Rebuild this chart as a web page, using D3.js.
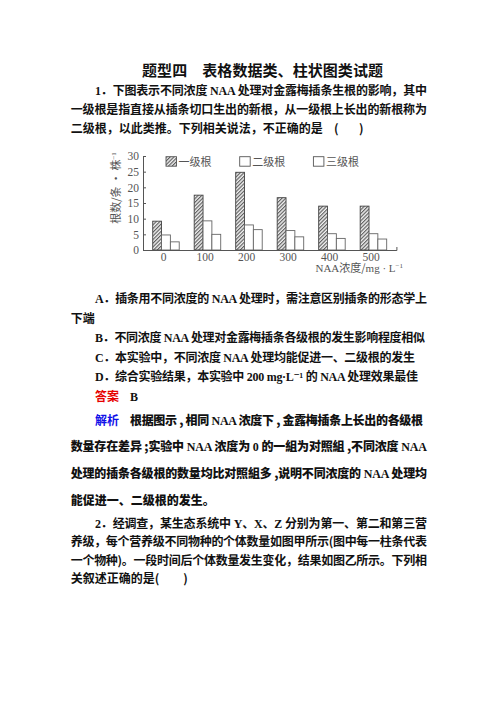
<!DOCTYPE html>
<html>
<head>
<meta charset="utf-8">
<script src="https://cdn.jsdelivr.net/npm/d3@7"></script>
<style>
  html, body { margin: 0; padding: 0; background: #fff; }
  svg { display: block; }
</style>
</head>
<body>
<script>
// chart values
const concentrations = ["0", "100", "200", "300", "400", "500"];
const rootLevels = ["一级根", "二级根", "三级根"];
const primaryRoots = [9.2, 17.5, 24.8, 16.7, 14.0, 14.0];
const secondaryRoots = [4.8, 9.3, 8.0, 6.2, 5.2, 5.2];
const tertiaryRoots = [2.6, 5.0, 6.5, 4.2, 3.7, 3.5];
const yTicks = [0, 5, 10, 15, 20, 25, 30];

// page texts
const pageTitle = "题型四　表格数据类、柱状图类试题";
const question1 = [
    "1．下图表示不同浓度 NAA 处理对金露梅插条生根的影响，其中",
    "一级根是指直接从插条切口生出的新根，从一级根上长出的新根称为",
    "二级根，以此类推。下列相关说法，不正确的是"
];
const options1 = [
    "A．插条用不同浓度的 NAA 处理时，需注意区别插条的形态学上",
    "下端",
    "B．不同浓度 NAA 处理对金露梅插条各级根的发生影响程度相似",
    "C．本实验中，不同浓度 NAA 处理均能促进一、二级根的发生",
    "D．综合实验结果，本实验中 200 mg·L⁻¹ 的 NAA 处理效果最佳"
];
const answer1 = "B";
const analysis1 = [
    "根据图示 , 相同 NAA 浓度下 , 金露梅插条上长出的各级根",
    "数量存在差异 ;实验中 NAA 浓度为 0 的一組为对照組 ,不同浓度 NAA",
    "处理的插条各级根的数量均比对照組多 ,说明不同浓度的 NAA 处理均",
    "能促进一、二级根的发生。"
];
const question2 = [
    "2．经调查，某生态系统中 Y、X、Z 分别为第一、第二和第三营",
    "养级，每个营养级不同物种的个体数量如图甲所示(图中每一柱条代表",
    "一个物种)。一段时间后个体数量发生变化，结果如图乙所示。下列相",
    "关叙述正确的是(　　)"
];

const CJK = "'Noto Sans CJK SC', sans-serif";
const LATIN = "'Liberation Serif', 'DejaVu Serif', serif";

const svg = d3.select("body").append("svg")
    .attr("width", 496)
    .attr("height", 702);

// one line of text, latin runs in serif; stretched to `right` if given
function addLine(str, x, yc, o) {
    o = o || {};
    let fs = o.size || 12;
    let t = svg.append("text")
        .attr("x", x)
        .attr("y", yc + fs * 0.38)
        .attr("fill", o.fill || "#111")
        .style("font-size", fs + "px")
        .style("font-weight", o.weight || 700);
    let runs = str.match(/[A-Za-z0-9·⁻¹\- ]+|[^A-Za-z0-9·⁻¹\- ]+/g);
    runs.forEach(r => {
        t.append("tspan")
            .style("font-family", /[A-Za-z0-9]/.test(r) ? LATIN : CJK)
            .text(r);
    });
    if (o.right !== undefined) {
        let nat = t.node().getComputedTextLength();
        let n = [...str].length;
        t.attr("letter-spacing", (o.right - x - nat) / (n - 1));
    }
    return t;
}

// title
addLine(pageTitle, 142, 70, {size: 15, right: 383});

// question 1
addLine(question1[0], 95, 90, {right: 427});
addLine(question1[1], 70.7, 109, {right: 427});
addLine(question1[2], 70.7, 128);
addLine("(", 334, 128);
addLine(")", 359, 128);

// ---- bar chart ----
const defs = svg.append("defs");
let pat = defs.append("pattern")
    .attr("id", "hatch")
    .attr("patternUnits", "userSpaceOnUse")
    .attr("width", 2.6)
    .attr("height", 2.6)
    .attr("patternTransform", "rotate(45)");
pat.append("rect").attr("width", 2.6).attr("height", 2.6).attr("fill", "#f2f2f2");
pat.append("line")
    .attr("x1", 0.6).attr("y1", 0).attr("x2", 0.6).attr("y2", 2.6)
    .attr("stroke", "#555").attr("stroke-width", 1.1);

let margin = {left: 143, right: 396.4, top: 156, bottom: 250};

let x0 = d3.scaleBand()
    .domain(concentrations)
    .range([margin.left, margin.right])
    .paddingInner(0.361)
    .paddingOuter(0.234);
let x1 = d3.scaleBand()
    .domain(rootLevels)
    .range([0, x0.bandwidth()]);
let y = d3.scaleLinear()
    .domain([0, 30])
    .range([margin.bottom, margin.top]);

const series = [primaryRoots, secondaryRoots, tertiaryRoots];
const axisColor = "#555";
const labelColor = "#555";

let groups = svg.append("g").selectAll("g")
    .data(concentrations)
    .join("g")
    .attr("transform", d => "translate(" + x0(d) + ",0)");

groups.selectAll("rect")
    .data((c, i) => rootLevels.map((lv, j) => ({level: lv, value: series[j][i], j: j})))
    .join("rect")
    .attr("x", d => x1(d.level))
    .attr("y", d => y(d.value))
    .attr("width", x1.bandwidth())
    .attr("height", d => y(0) - y(d.value))
    .attr("fill", d => d.j === 0 ? "url(#hatch)" : "#fff")
    .attr("stroke", d => d.j === 0 ? "#444" : "#666")
    .attr("stroke-width", 0.9);

// y axis, ticks pointing in
let gy = svg.append("g")
    .attr("transform", "translate(" + margin.left + ",0)")
    .call(d3.axisLeft(y).tickValues(yTicks).tickSizeInner(-3).tickSizeOuter(0).tickPadding(4));
gy.select(".domain").attr("stroke", axisColor);
gy.selectAll(".tick line").attr("stroke", axisColor);
gy.selectAll(".tick text")
    .attr("fill", labelColor)
    .style("font-family", LATIN)
    .style("font-size", "11.5px");

// x axis
let gx = svg.append("g")
    .attr("transform", "translate(0," + margin.bottom + ")")
    .call(d3.axisBottom(x0).tickSizeInner(0).tickSizeOuter(-3).tickPadding(3));
gx.select(".domain").attr("stroke", axisColor);
gx.selectAll(".tick text")
    .attr("dx", "-0.2em")
    .attr("fill", labelColor)
    .style("font-family", LATIN)
    .style("font-size", "11.5px");

// axis titles
let yt = svg.append("text")
    .attr("transform", "translate(120,188) rotate(-90)")
    .attr("text-anchor", "middle")
    .attr("fill", labelColor)
    .style("font-family", CJK)
    .style("font-size", "11px");
yt.append("tspan").text("根数/条 · 株");
yt.append("tspan").attr("dy", -4).style("font-size", "7px").style("font-family", LATIN).text("−1");

let xt = svg.append("text")
    .attr("x", 403)
    .attr("y", 272)
    .attr("text-anchor", "end")
    .attr("fill", labelColor)
    .style("font-size", "11px");
xt.append("tspan").style("font-family", LATIN).text("NAA");
xt.append("tspan").style("font-family", CJK).text("浓度/");
xt.append("tspan").style("font-family", LATIN).text("mg · L");
xt.append("tspan").attr("dy", -4).style("font-size", "7px").style("font-family", LATIN).text("−1");

// legend
let legend = svg.append("g").selectAll("g")
    .data(rootLevels)
    .join("g")
    .attr("transform", (d, i) => "translate(" + (166 + i * 73.7) + ",156.7)");
legend.append("rect")
    .attr("width", 10.5)
    .attr("height", 9.5)
    .attr("fill", (d, i) => i === 0 ? "url(#hatch)" : "#fff")
    .attr("stroke", "#555")
    .attr("stroke-width", 0.9);
legend.append("text")
    .attr("x", 12.5)
    .attr("y", 9)
    .attr("fill", labelColor)
    .style("font-family", CJK)
    .style("font-size", "11px")
    .text(d => d);

// options
addLine(options1[0], 95, 298.5, {right: 427});
addLine(options1[1], 70.7, 318);
addLine(options1[2], 95, 337.5, {right: 425});
addLine(options1[3], 95, 357, {right: 415});
addLine(options1[4], 95, 376.5, {right: 418});
addLine("答案", 95, 396, {fill: "#e60000"});
addLine(answer1, 130, 396);

// analysis
addLine("解析", 95, 420, {fill: "#1010e8"});
addLine(analysis1[0], 130, 420, {right: 423, weight: 900});
addLine(analysis1[1], 70.7, 446.7, {right: 427, weight: 900});
addLine(analysis1[2], 70.7, 473.3, {right: 427, weight: 900});
addLine(analysis1[3], 70.7, 500, {weight: 900});

// question 2
addLine(question2[0], 95, 523, {right: 427});
addLine(question2[1], 70.7, 541.5, {right: 427});
addLine(question2[2], 70.7, 560, {right: 427});
addLine(question2[3], 70.7, 578.5);
</script>
</body>
</html>
